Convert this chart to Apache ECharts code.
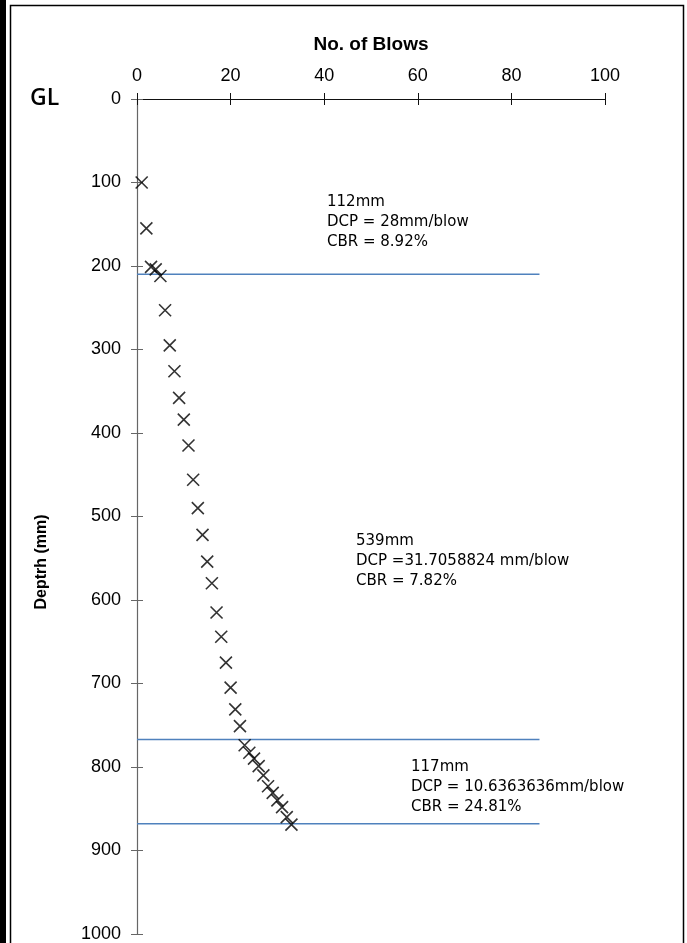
<!DOCTYPE html>
<html>
<head>
<meta charset="utf-8">
<script src="https://cdn.jsdelivr.net/npm/echarts@6/dist/echarts.min.js"></script>
<style>
  html, body { margin: 0; padding: 0; background: #fff; }
  #chart { width: 687px; height: 943px; }
</style>
</head>
<body>
<div id="chart"></div>
<script>
// Dynamic cone penetrometer log: cumulative blows against penetration depth
const blows  = [1, 2, 3, 4, 5, 6, 7, 8, 9, 10, 11, 12, 13, 14, 15, 16, 17,
                18, 19, 20, 21, 22, 23, 24, 25, 26, 27, 28, 29, 30, 31, 32, 33];
const depths = [100, 155, 201, 204, 212, 253, 295, 326, 358, 384, 415, 456, 490, 522, 554, 580, 615,
                644, 675, 705, 731, 751, 774, 783, 790, 799, 810, 823, 831, 840, 848, 860, 869];

// Layer boundaries (depth, mm) and the blow range each boundary line spans
const boundaryDepths = [210, 767, 868];
const boundarySpan = [0, 86];

// Layer notes
const layerNotes = [
  ['112mm', 'DCP = 28mm/blow', 'CBR = 8.92%'],
  ['539mm', 'DCP =31.7058824 mm/blow', 'CBR = 7.82%'],
  ['117mm', 'DCP = 10.6363636mm/blow', 'CBR = 24.81%']
];

const chart = echarts.init(document.getElementById('chart'), null, { renderer: 'canvas' });

const tickFont = {
  fontFamily: '"Liberation Sans Narrow", "Liberation Sans", Arial, sans-serif',
  fontSize: 18, color: '#000',
  formatter: v => String(v)
};

const points = blows.map((b, i) => [b, depths[i]]);
const boundarySeries = boundaryDepths.map(d => ({
  type: 'line',
  xAxisIndex: 0, yAxisIndex: 0,
  data: [[boundarySpan[0], d], [boundarySpan[1], d]],
  symbol: 'none',
  lineStyle: { color: '#4f81bd', width: 1.5 },
  silent: true,
  z: 1
}));

const notePos = [[327, 192], [356, 531], [411, 757]];

chart.setOption({
  animation: false,
  backgroundColor: '#fff',
  grid: { left: 137, right: 82, top: 99, bottom: 7, containLabel: false },
  xAxis: [
    {
      type: 'value', position: 'top', min: 0, max: 100, interval: 20,
      name: 'No. of Blows', nameLocation: 'middle', nameGap: 45,
      nameTextStyle: { fontFamily: '"Liberation Sans", Arial, sans-serif', fontWeight: 'bold', fontSize: 19, color: '#000' },
      axisLine: { show: true, lineStyle: { color: '#111', width: 1 } },
      axisTick: { show: true, inside: false, length: 6, lineStyle: { color: '#111' } },
      axisLabel: Object.assign({ margin: 14 }, tickFont),
      splitLine: { show: false }
    },
    {
      type: 'value', position: 'top', min: 0, max: 100, interval: 20,
      axisLine: { show: false },
      axisTick: { show: true, inside: true, length: 6, lineStyle: { color: '#111' } },
      axisLabel: { show: false },
      splitLine: { show: false }
    }
  ],
  yAxis: [
    {
      type: 'value', inverse: true, min: 0, max: 1000, interval: 100,
      axisLine: { show: true, lineStyle: { color: '#666', width: 1.2 } },
      axisTick: { show: true, inside: false, length: 6, lineStyle: { color: '#666' } },
      axisLabel: Object.assign({ margin: 16 }, tickFont),
      splitLine: { show: false }
    },
    {
      type: 'value', inverse: true, min: 0, max: 1000, interval: 100, position: 'left',
      axisLine: { show: false },
      axisTick: { show: true, inside: true, length: 6, lineStyle: { color: '#666' } },
      axisLabel: { show: false },
      splitLine: { show: false }
    }
  ],
  series: boundarySeries.concat([{
    type: 'scatter',
    xAxisIndex: 0, yAxisIndex: 0,
    data: points,
    symbol: 'path://M0,0L10,10M10,0L0,10',
    symbolSize: 12,
    itemStyle: { color: 'none', borderColor: '#000', borderWidth: 1.6 },
    z: 3
  }]),
  graphic: [
    // page frame
    { type: 'rect', shape: { x: 0, y: 0, width: 6, height: 943 }, style: { fill: '#000' }, silent: true },
    { type: 'rect', shape: { x: 10.5, y: 5.5, width: 673, height: 945 }, style: { fill: 'none', stroke: '#000', lineWidth: 1.5 }, silent: true },
    // ground level marker
    { type: 'text', left: 30, top: 87, style: { text: 'GL', font: '600 23px "Open Sans", "DejaVu Sans", sans-serif', fill: '#000' } },
    // depth axis title
    {
      type: 'text', x: 42, y: 562, rotation: Math.PI / 2,
      style: {
        text: 'Deptrh (mm)', font: 'bold 16px "Liberation Sans", Arial, sans-serif', fill: '#000',
        align: 'center', verticalAlign: 'middle'
      }
    }
  ].concat(layerNotes.map((lines, i) => ({
    type: 'text', left: notePos[i][0], top: notePos[i][1],
    style: { text: lines.join('\n'), font: '15px "DejaVu Sans", Verdana, sans-serif', lineHeight: 20, fill: '#000' }
  })))
});
</script>
</body>
</html>
